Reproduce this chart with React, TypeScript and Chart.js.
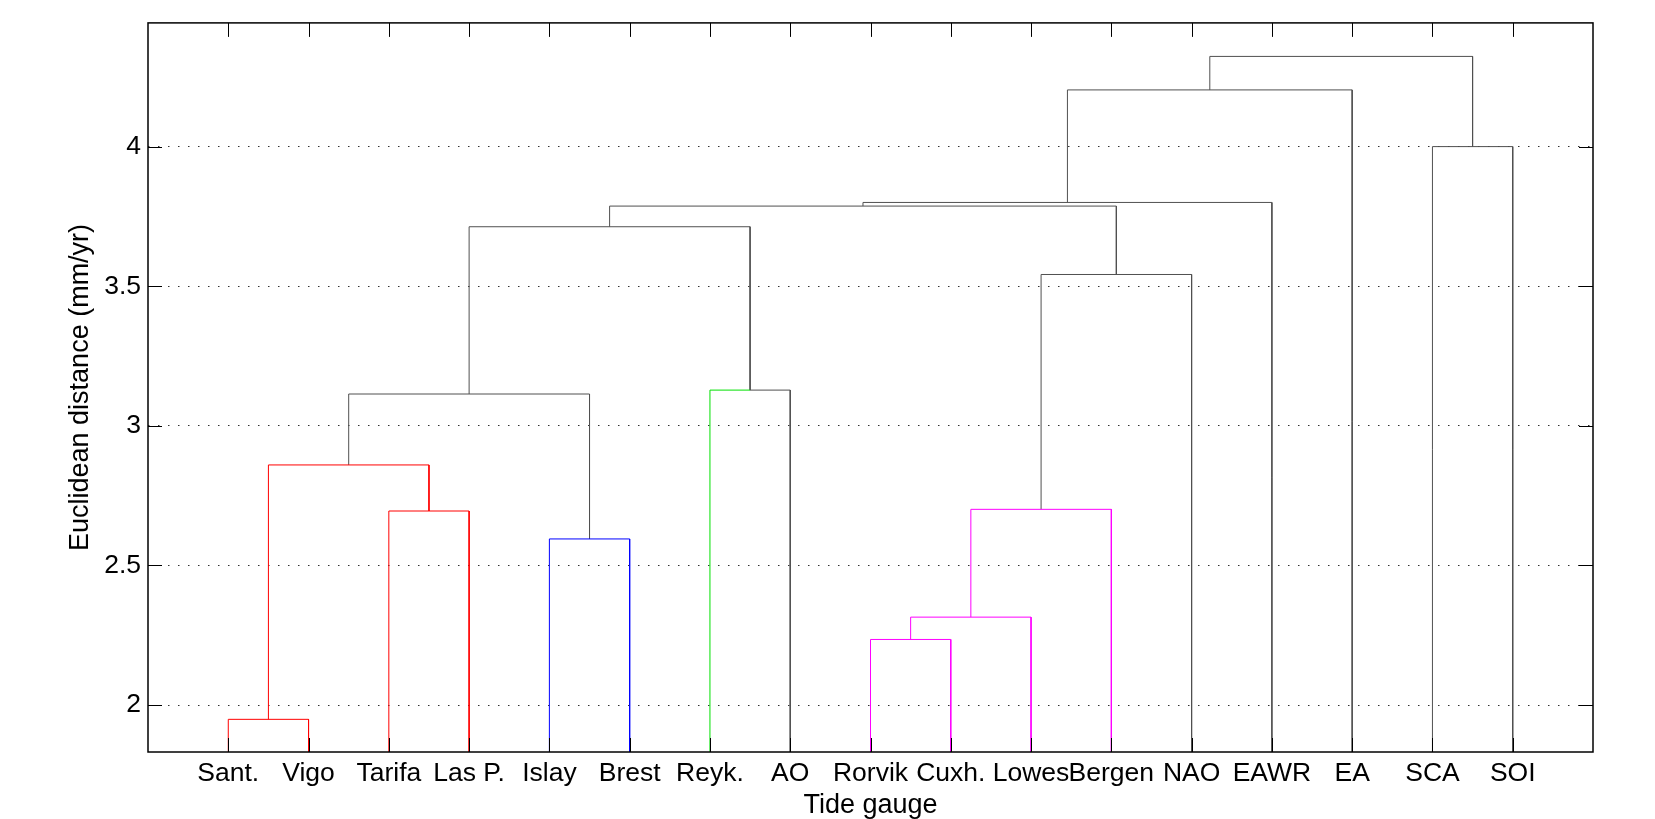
import React, { useEffect, useRef } from 'react';
import { Chart, registerables } from 'chart.js';

Chart.register(...registerables);

// ---- Data ----
const leafLabels = ['Sant.', 'Vigo', 'Tarifa', 'Las P.', 'Islay', 'Brest', 'Reyk.', 'AO', 'Rorvik', 'Cuxh.', 'Lowes', 'Bergen', 'NAO', 'EAWR', 'EA', 'SCA', 'SOI'];
const leafPositions = [1, 2, 3, 4, 5, 6, 7, 8, 9, 10, 11, 12, 13, 14, 15, 16, 17];
const leafHeight = 0;

// Linkage: leaves are 1..17, merge k creates cluster 18 + k
const mergeLeft = [1, 3, 18, 5, 20, 7, 22, 9, 25, 26, 27, 24, 29, 30, 16, 31];
const mergeRight = [2, 4, 19, 6, 21, 8, 23, 10, 11, 12, 13, 28, 14, 15, 17, 32];
const mergeHeight = [1.949, 2.695, 2.86, 2.595, 3.114, 3.128, 3.713, 2.235, 2.315, 2.701, 3.542, 3.787, 3.8, 4.203, 4.0, 4.323];
const leftColor = ['red', 'red', 'red', 'blue', 'gray', 'green', 'gray', 'magenta', 'magenta', 'magenta', 'gray', 'gray', 'gray', 'gray', 'gray', 'gray'];
const rightColor = ['red', 'red', 'red', 'blue', 'gray', 'gray', 'gray', 'magenta', 'magenta', 'magenta', 'gray', 'gray', 'gray', 'gray', 'gray', 'gray'];

const yTickValues = [2, 2.5, 3, 3.5, 4];
const yTickLabels = ['2', '2.5', '3', '3.5', '4'];
const yMin = 1.832;
const yMax = 4.443;
const xMin = 0;
const xMax = 18;

const palette: Record<string, string> = {
  red: '#ff0000',
  blue: '#0000ff',
  green: '#00e000',
  magenta: '#ff00ff',
  gray: '#505050',
};

const FONT = "'Liberation Sans', Arial, Helvetica, sans-serif";

function buildDatasets() {
  const nLeaves = leafLabels.length;
  const nodeX: Record<number, number> = {};
  const nodeY: Record<number, number> = {};
  for (let i = 0; i < nLeaves; i++) {
    nodeX[i + 1] = leafPositions[i];
    nodeY[i + 1] = leafHeight;
  }
  const datasets: any[] = [];
  for (let k = 0; k < mergeHeight.length; k++) {
    const a = mergeLeft[k];
    const b = mergeRight[k];
    const h = mergeHeight[k];
    const xa = nodeX[a];
    const xb = nodeX[b];
    const xm = (xa + xb) / 2;
    nodeX[nLeaves + 1 + k] = xm;
    nodeY[nLeaves + 1 + k] = h;
    const common = {
      showLine: true,
      pointRadius: 0,
      pointHoverRadius: 0,
      borderWidth: 1,
      fill: false,
      tension: 0,
      clip: 0,
    };
    if (leftColor[k] === rightColor[k]) {
      datasets.push({
        ...common,
        data: [
          { x: xa, y: nodeY[a] },
          { x: xa, y: h },
          { x: xb, y: h },
          { x: xb, y: nodeY[b] },
        ],
        borderColor: palette[leftColor[k]],
      });
    } else {
      datasets.push({
        ...common,
        data: [
          { x: xm, y: h },
          { x: xb, y: h },
          { x: xb, y: nodeY[b] },
        ],
        borderColor: palette[rightColor[k]],
      });
      datasets.push({
        ...common,
        data: [
          { x: xa, y: nodeY[a] },
          { x: xa, y: h },
          { x: xm, y: h },
        ],
        borderColor: palette[leftColor[k]],
      });
    }
  }
  return datasets;
}

const framePlugin = {
  id: 'matlabFrame',
  afterDatasetsDraw(chart: any) {
    const { ctx, chartArea, scales } = chart;
    const { left, right, top, bottom } = chartArea;
    const xs = scales.x;
    const ys = scales.y;
    const tl = 14;
    ctx.save();
    ctx.strokeStyle = '#000';
    ctx.lineWidth = 1;
    ctx.beginPath();
    xs.ticks.forEach((t: any) => {
      const px = Math.round(xs.getPixelForValue(t.value)) + 0.5;
      ctx.moveTo(px, bottom);
      ctx.lineTo(px, bottom - tl);
      ctx.moveTo(px, top);
      ctx.lineTo(px, top + tl);
    });
    ys.ticks.forEach((t: any) => {
      const py = Math.round(ys.getPixelForValue(t.value)) + 0.5;
      ctx.moveTo(left, py);
      ctx.lineTo(left + tl, py);
      ctx.moveTo(right, py);
      ctx.lineTo(right - tl, py);
    });
    ctx.stroke();
    ctx.lineWidth = 1.5;
    ctx.strokeRect(left, top, right - left, bottom - top);
    ctx.restore();
  },
};

export default function App() {
  const canvasRef = useRef<HTMLCanvasElement | null>(null);

  useEffect(() => {
    if (!canvasRef.current) return;
    const chart = new Chart(canvasRef.current, {
      type: 'scatter',
      data: { datasets: buildDatasets() },
      options: {
        animation: false,
        responsive: false,
        events: [],
        layout: { padding: { top: 22, right: 62, bottom: 0, left: 0 } },
        plugins: {
          legend: { display: false },
          tooltip: { enabled: false },
        },
        scales: {
          x: {
            type: 'linear',
            min: xMin,
            max: xMax,
            afterBuildTicks: (scale: any) => {
              scale.ticks = leafPositions.map((v) => ({ value: v }));
            },
            afterFit: (scale: any) => {
              scale.height = 67;
            },
            grid: { display: false, drawTicks: false },
            border: { display: false },
            ticks: {
              autoSkip: false,
              maxRotation: 0,
              padding: 6,
              color: '#000',
              font: { size: 26.5, family: FONT },
              callback: (v: any) => {
                const i = leafPositions.indexOf(Number(v));
                return i >= 0 ? leafLabels[i] : '';
              },
            },
            title: {
              display: true,
              text: 'Tide gauge',
              color: '#000',
              font: { size: 27, family: FONT },
              padding: { top: 0, bottom: -2.5 },
            },
          },
          y: {
            type: 'linear',
            min: yMin,
            max: yMax,
            afterBuildTicks: (scale: any) => {
              scale.ticks = yTickValues.map((v) => ({ value: v }));
            },
            afterFit: (scale: any) => {
              scale.width = 148;
            },
            grid: {
              display: true,
              drawTicks: false,
              color: '#333',
              lineWidth: 1,
            },
            border: { display: false, dash: [1.5, 8.5] },
            ticks: {
              padding: 7,
              color: '#000',
              font: { size: 26.5, family: FONT },
              callback: (v: any) => {
                const i = yTickValues.indexOf(Number(v));
                return i >= 0 ? yTickLabels[i] : '';
              },
            },
            title: {
              display: true,
              text: 'Euclidean distance (mm/yr)',
              color: '#000',
              font: { size: 27, family: FONT },
              padding: { top: 64, bottom: 0 },
            },
          },
        },
      },
      plugins: [framePlugin],
    } as any);
    return () => chart.destroy();
  }, []);

  return (
    <div style={{ position: 'absolute', left: 0, top: 0, width: 1655, height: 819, background: '#fff' }}>
      <canvas ref={canvasRef} width={1655} height={819} style={{ display: 'block' }} />
    </div>
  );
}
